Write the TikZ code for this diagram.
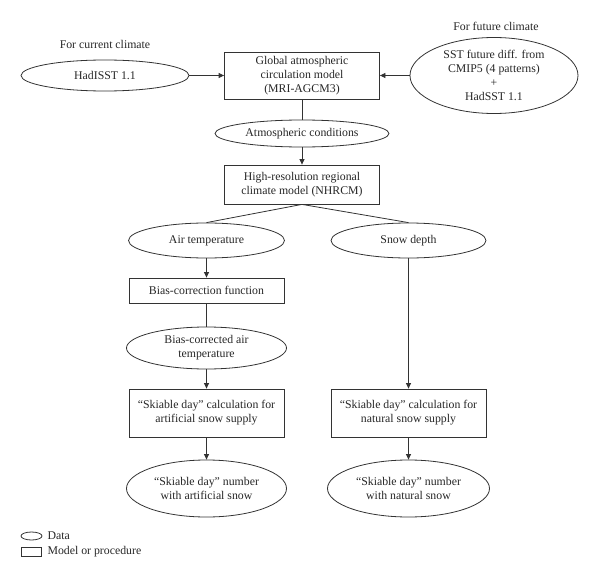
\documentclass[tikz,border=0pt]{standalone}
\usepackage{fontspec}
\setmainfont{Liberation Serif}
\usepackage{tikz}
\usetikzlibrary{arrows.meta,positioning,shapes.geometric}

\begin{document}
\begin{tikzpicture}[x=1pt, y=-1pt,
  font=\fontsize{11.8}{14.2}\selectfont, text=black!85,
  databox/.style={ellipse, draw=black!80, line width=0.8pt, inner sep=0pt, align=center},
  procbox/.style={rectangle, draw=black!80, line width=0.8pt, inner sep=0pt, minimum width=155pt, align=center},
  flow/.style={draw=black!80, line width=0.8pt, -{Triangle[length=5.5pt,width=5pt]}},
  link/.style={draw=black!80, line width=0.8pt}]

\useasboundingbox (0,0) rectangle (600,578);

% Climate inputs
\node (lblcurrent) at (105,44) {For current climate};
\node (lblfuture) at (496,26) {For future climate};
\node[databox, minimum width=168pt, minimum height=31pt] (hadisst) at (105,75.5) {HadISST 1.1};
\node[procbox, minimum height=47pt] (gcm) at (302,75.5) {Global atmospheric\\circulation model\\(MRI-AGCM3)};
\node[databox, minimum width=168pt, minimum height=76pt] (sst) at (494,75.5) {SST future diff. from\\CMIP5 (4 patterns)\\+\\HadSST 1.1};

% Downscaling
\node[databox, minimum width=174pt, minimum height=27pt] (atmos) at (302,133.5) {Atmospheric conditions};
\node[procbox, minimum height=39pt] (nhrcm) at (302,184.5) {High-resolution regional\\climate model (NHRCM)};

% Artificial snow branch
\node[databox, minimum width=156pt, minimum height=35pt] (airtemp) at (206.5,240.5) {Air temperature};
\node[procbox, minimum height=25pt] (biasfn) at (206.5,290.5) {Bias-correction function};
\node[databox, minimum width=160pt, minimum height=42pt] (biastemp) at (206.5,348) {Bias-corrected air\\temperature};
\node[procbox, minimum height=48pt] (calcart) at (206.5,413) {“Skiable day” calculation for\\artificial snow supply};
\node[databox, minimum width=160pt, minimum height=57pt] (numart) at (206.5,488.5) {“Skiable day” number\\with artificial snow};

% Natural snow branch
\node[databox, minimum width=155pt, minimum height=35pt] (snow) at (408.5,240.5) {Snow depth};
\node[procbox, minimum height=48pt] (calcnat) at (408.5,413) {“Skiable day” calculation for\\natural snow supply};
\node[databox, minimum width=162pt, minimum height=57pt] (numnat) at (408.5,488.5) {“Skiable day” number\\with natural snow};

% Connectors
\draw[flow] (hadisst.east) -- (hadisst.east -| gcm.west);
\draw[flow] (sst.west) -- (sst.west -| gcm.east);
\draw[link] (gcm.south) -- (atmos.north);
\draw[flow] (atmos.south) -- (nhrcm.north);
\draw[link] (nhrcm.south) -- (airtemp.north);
\draw[link] (nhrcm.south) -- (snow.north);
\draw[flow] (airtemp.south) -- (biasfn.north);
\draw[link] (biasfn.south) -- (biastemp.north);
\draw[flow] (biastemp.south) -- (calcart.north);
\draw[flow] (calcart.south) -- (numart.north);
\draw[flow] (snow.south) -- (calcnat.north);
\draw[flow] (calcnat.south) -- (numnat.north);

% Legend
\node[databox, minimum width=21pt, minimum height=8pt] (legdata) at (31.5,536) {};
\node[anchor=west] (legdatatxt) at (44,536) {Data};
\node[procbox, minimum width=20pt, minimum height=9pt] (legproc) at (31,551.5) {};
\node[anchor=west] (legproctxt) at (44,551.5) {Model or procedure};

\end{tikzpicture}
\end{document}
